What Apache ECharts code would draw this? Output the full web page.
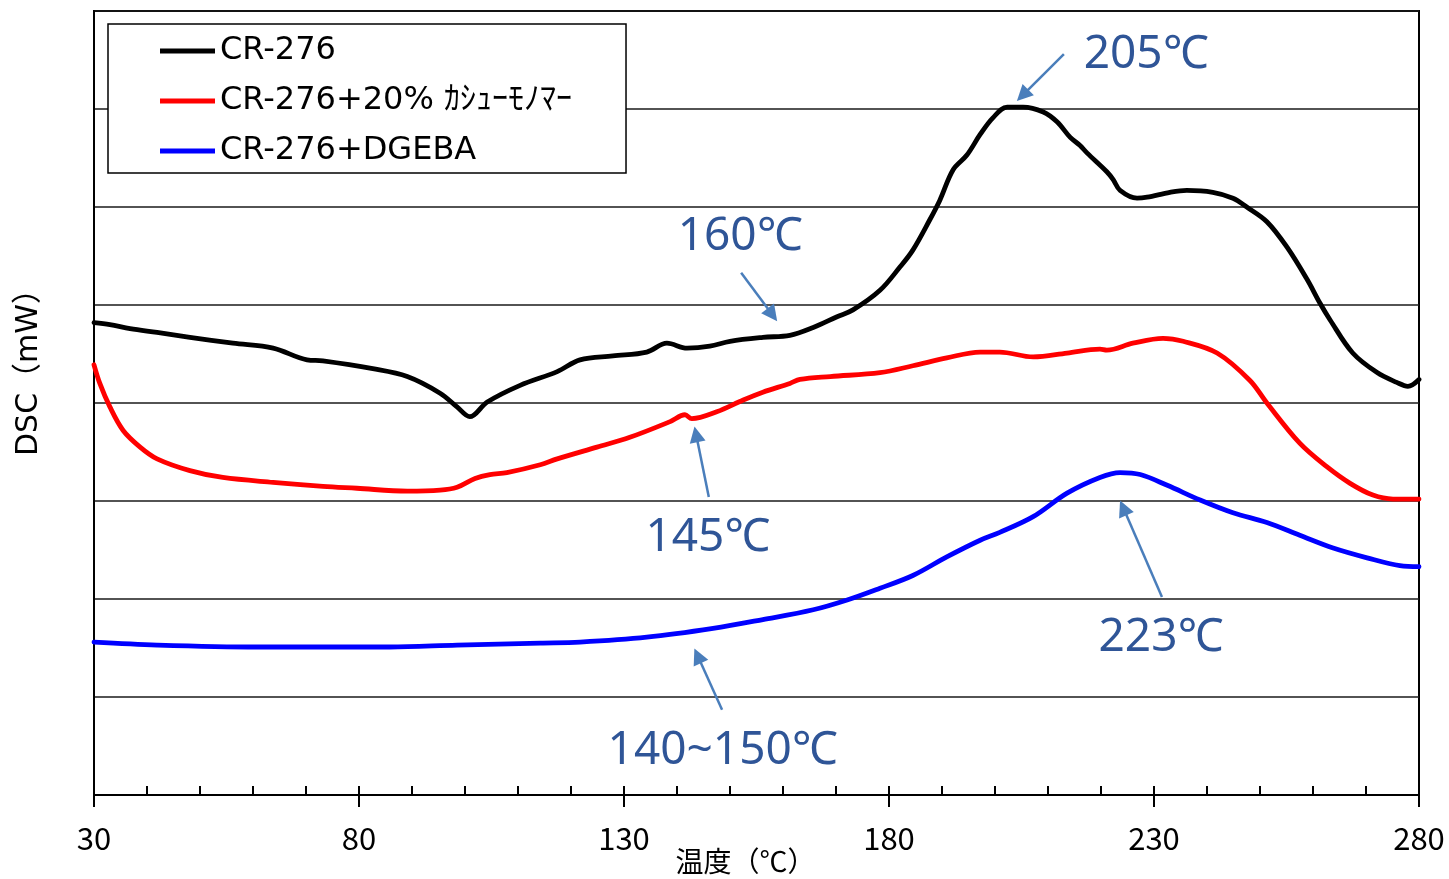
<!DOCTYPE html>
<html>
<head>
<meta charset="utf-8">
<script src="https://cdn.jsdelivr.net/npm/echarts@6/dist/echarts.min.js"></script>
<style>html,body{margin:0;padding:0;background:#fff}#c{width:1449px;height:879px}</style>
</head>
<body>
<div id="c"></div>
<script>
const seriesNames = ['CR-276', 'CR-276+20% ｶｼｭｰﾓﾉﾏｰ', 'CR-276+DGEBA'];

const tempBlack = [30.0,33.0,36.8,41.9,48.1,56.2,63.8,70.2,73.2,82.6,89.1,95.3,98.5,100.9,104.2,110.4,117.4,121.7,127.9,134.3,138.1,141.9,146.2,150.0,156.2,161.3,165.7,170.2,173.2,178.3,182.1,184.5,187.7,189.6,192.1,194.7,197.2,199.6,202.3,205.3,209.1,211.7,214.2,216.0,217.4,221.1,222.3,223.6,226.8,228.7,233.0,236.2,241.1,244.9,247.5,251.3,255.1,258.9,261.3,263.2,267.5,272.1,275.8,277.9,280.0];
const dscBlack = [4.82,4.80,4.76,4.72,4.67,4.61,4.56,4.44,4.43,4.35,4.27,4.10,3.96,3.86,4.01,4.18,4.32,4.44,4.48,4.52,4.61,4.56,4.58,4.63,4.67,4.69,4.77,4.88,4.95,5.15,5.39,5.56,5.87,6.07,6.38,6.53,6.74,6.91,7.02,7.02,6.97,6.87,6.71,6.63,6.55,6.36,6.28,6.17,6.09,6.10,6.15,6.17,6.15,6.09,6.00,5.85,5.59,5.26,5.02,4.85,4.51,4.31,4.21,4.17,4.24];

const tempRed = [30.0,31.1,33.0,35.5,38.7,41.9,48.1,54.3,63.8,73.2,79.6,89.1,95.3,98.5,101.9,104.7,107.9,114.2,117.4,124.9,131.1,138.7,141.5,142.8,147.5,152.5,156.2,161.3,163.2,168.9,178.3,184.5,190.9,197.2,200.9,207.2,213.6,219.8,221.1,226.0,231.7,235.5,241.9,248.1,251.3,257.5,262.6,267.0,271.3,275.1,280.0];
const dscRed = [4.39,4.20,3.96,3.72,3.55,3.43,3.31,3.24,3.19,3.15,3.13,3.10,3.11,3.14,3.23,3.27,3.29,3.37,3.43,3.55,3.65,3.81,3.88,3.84,3.91,4.03,4.11,4.20,4.24,4.27,4.31,4.38,4.46,4.52,4.52,4.47,4.51,4.55,4.54,4.61,4.66,4.63,4.51,4.23,4.00,3.59,3.35,3.18,3.06,3.02,3.02];

const tempBlue = [30.0,41.9,60.8,73.2,85.8,98.5,114.2,121.7,134.3,146.8,156.2,165.7,172.1,178.3,184.5,190.9,197.2,200.9,207.2,213.6,219.8,223.6,227.4,232.5,238.7,244.9,251.3,257.5,263.8,270.2,276.4,280.0];
const dscBlue = [1.56,1.53,1.51,1.51,1.51,1.53,1.55,1.56,1.61,1.70,1.79,1.89,1.99,2.11,2.24,2.43,2.60,2.68,2.84,3.08,3.24,3.29,3.27,3.16,3.01,2.88,2.78,2.65,2.52,2.42,2.34,2.33];

const xTicks = [30, 80, 130, 180, 230, 280];

const annoText = ['205℃', '160℃', '145℃', '223℃', '140~150℃'];
const annoTextAt = [[228.5, 7.55], [151.9, 5.70], [145.8, 2.62], [231.3, 1.60], [148.6, 0.45]];
const arrowFrom = [[213.0, 7.56], [152.1, 5.33], [146.0, 3.04], [231.5, 2.02], [148.5, 0.87]];
const arrowTo = [[205.2, 7.14], [158.0, 4.90], [143.6, 3.68], [224.2, 2.93], [143.9, 1.42]];

function pairs(xs, ys) { return xs.map((x, i) => [x, ys[i]]); }

const chart = echarts.init(document.getElementById('c'), null, { renderer: 'canvas' });
const colors = ['#000000', '#FF0000', '#0000FF'];
const dataSets = [pairs(tempBlack, dscBlack), pairs(tempRed, dscRed), pairs(tempBlue, dscBlue)];

const series = seriesNames.map((n, i) => ({
  name: n,
  type: 'line',
  xAxisIndex: 0,
  yAxisIndex: 0,
  data: dataSets[i],
  showSymbol: false,
  symbol: 'none',
  smooth: 0.35,
  lineStyle: { color: colors[i], width: 4.8, cap: 'round', join: 'round' },
  itemStyle: { color: colors[i] },
  z: 3
}));

series[2].markLine = {
  silent: true,
  symbol: ['none', 'triangle'],
  symbolSize: 16,
  label: { show: false },
  lineStyle: { color: '#4A7EBB', width: 2.5, type: 'solid' },
  emphasis: { disabled: true },
  data: arrowFrom.map((f, i) => [{ coord: f }, { coord: arrowTo[i] }])
};
series[2].markPoint = {
  silent: true,
  symbol: 'rect',
  symbolSize: 1,
  itemStyle: { color: 'rgba(0,0,0,0)' },
  label: {
    show: true, position: 'inside', formatter: '{b}',
    fontSize: 46, color: '#2F5597', fontFamily: "'Noto Sans', 'Noto Sans CJK JP'"
  },
  data: annoText.map((t, i) => ({ name: t, coord: annoTextAt[i] }))
};

chart.setOption({
  animation: false,
  backgroundColor: '#fff',
  grid: { left: 94, right: 30, top: 11, bottom: 84, show: true, borderColor: '#000', borderWidth: 2,
    containLabel: false, outerBoundsMode: 'none' },
  legend: {
    orient: 'vertical', left: 108, top: 24,
    data: seriesNames.map(n => ({ name: n, icon: 'rect' })),
    itemWidth: 55, itemHeight: 5, itemGap: 18,
    padding: [11, 54, 6, 52],
    borderColor: '#000', borderWidth: 1.5, backgroundColor: '#fff',
    textStyle: { fontSize: 32, color: '#000', fontFamily: "'DejaVu Sans', 'Noto Sans CJK JP'" },
    selectedMode: false
  },
  xAxis: [
    {
      type: 'value', min: 30, max: 280, interval: 50,
      name: '温度（℃）', nameLocation: 'middle', nameGap: 52, nameMoveOverlap: false,
      nameTextStyle: { fontSize: 28, color: '#000', fontFamily: "'Noto Sans CJK JP'", padding: [0, 22, 0, 0] },
      axisLine: { show: true, lineStyle: { color: '#000', width: 2 } },
      axisTick: { show: true, inside: false, length: 12, lineStyle: { color: '#000', width: 2 } },
      axisLabel: { show: true, fontSize: 31, color: '#000', margin: 28, fontFamily: "'Noto Sans CJK JP'",
        formatter: v => (xTicks.indexOf(v) >= 0 ? String(v) : '') },
      splitLine: { show: false }
    },
    {
      type: 'value', min: 30, max: 280, interval: 10, position: 'bottom', gridIndex: 0,
      axisLine: { show: false },
      axisTick: { show: true, inside: true, length: 9, lineStyle: { color: '#000', width: 2 } },
      axisLabel: { show: false },
      splitLine: { show: false }
    }
  ],
  yAxis: {
    type: 'value', min: 0, max: 8, interval: 1,
    name: 'DSC（mW）', nameLocation: 'middle', nameGap: 50, nameRotate: 90, nameMoveOverlap: false,
    nameTextStyle: { fontSize: 30, color: '#000', fontFamily: "'DejaVu Sans', 'Noto Sans CJK JP'", padding: [0, 0, 0, 76] },
    axisLine: { show: true, lineStyle: { color: '#000', width: 2 } },
    axisTick: { show: false },
    axisLabel: { show: false },
    splitLine: { show: true, lineStyle: { color: '#1a1a1a', width: 1.5 } }
  },
  series: series
});
</script>
</body>
</html>
